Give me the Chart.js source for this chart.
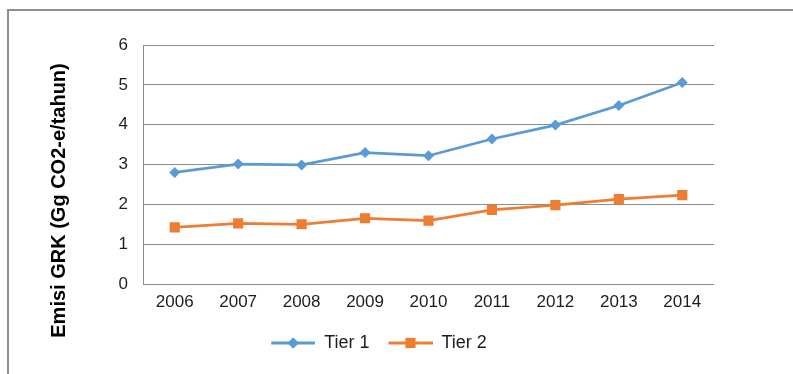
<!DOCTYPE html>
<html>
<head>
<meta charset="utf-8">
<script src="https://cdn.jsdelivr.net/npm/chart.js@4"></script>
<style>
    html, body { margin: 0; padding: 0; background: #fff; }
    #wrap { width: 793px; height: 374px; position: relative; }
</style>
</head>
<body>
<div id="wrap"><canvas id="chart"></canvas></div>
<script>
const years = ['2006', '2007', '2008', '2009', '2010', '2011', '2012', '2013', '2014'];
const tier1 = [2.80, 3.01, 2.99, 3.30, 3.22, 3.64, 3.99, 4.48, 5.06];
const tier2 = [1.42, 1.52, 1.50, 1.65, 1.59, 1.86, 1.98, 2.13, 2.23];
const yTicks = [0, 1, 2, 3, 4, 5, 6];

const blue = '#5b9bd5';
const orange = '#ed7d31';
const gridColor = '#8c8c8c';
const textColor = '#1e1e1e';
const fontFamily = 'Arial, "Liberation Sans", sans-serif';

// line + marker swatch for the legend, with a blank gap on its left
const swatchGap = 7;
function legendSwatch(color, style, radius) {
    const c = document.createElement('canvas');
    c.width = 44 + swatchGap;
    c.height = 16;
    const ctx = c.getContext('2d');
    ctx.strokeStyle = color;
    ctx.lineWidth = 3;
    ctx.beginPath();
    ctx.moveTo(swatchGap, 8);
    ctx.lineTo(swatchGap + 44, 8);
    ctx.stroke();
    ctx.fillStyle = color;
    Chart.helpers.drawPoint(ctx, { pointStyle: style, radius: radius, borderWidth: 0 }, swatchGap + 22, 8);
    ctx.fill();
    return c;
}

const framePlugin = {
    id: 'frame',
    beforeDraw(chart) {
        const ctx = chart.ctx;
        ctx.save();
        ctx.strokeStyle = '#8e8e8e';
        ctx.lineWidth = 2;
        ctx.beginPath();
        ctx.moveTo(8, chart.height);
        ctx.lineTo(8, 10);
        ctx.lineTo(chart.width, 10);
        ctx.stroke();
        ctx.restore();
    }
};

const yTitlePlugin = {
    id: 'yTitle',
    afterDraw(chart) {
        const ctx = chart.ctx;
        const area = chart.chartArea;
        ctx.save();
        ctx.translate(59, area.top + (area.bottom - area.top) / 2 + 36);
        ctx.rotate(-Math.PI / 2);
        ctx.fillStyle = '#000';
        ctx.font = 'bold 20px ' + fontFamily;
        ctx.textAlign = 'center';
        ctx.textBaseline = 'middle';
        ctx.fillText('Emisi GRK (Gg CO2-e/tahun)', 0, 0);
        ctx.restore();
    }
};

new Chart(document.getElementById('chart'), {
    type: 'line',
    data: {
        labels: years,
        datasets: [{
            label: 'Tier 1',
            data: tier1,
            borderColor: blue,
            backgroundColor: blue,
            borderWidth: 2.75,
            pointStyle: 'rectRot',
            pointRadius: 5.5,
            pointBorderWidth: 0,
            tension: 0
        }, {
            label: 'Tier 2',
            data: tier2,
            borderColor: orange,
            backgroundColor: orange,
            borderWidth: 2.75,
            pointStyle: 'rect',
            pointRadius: 7.2,
            pointBorderWidth: 0,
            tension: 0
        }]
    },
    options: {
        responsive: true,
        maintainAspectRatio: false,
        animation: false,
        layout: {
            padding: { top: 45, right: 79, bottom: 12, left: 37 }
        },
        plugins: {
            tooltip: { enabled: false },
            legend: {
                position: 'bottom',
                labels: {
                    usePointStyle: true,
                    pointStyleWidth: 44 + swatchGap,
                    padding: 12,
                    color: textColor,
                    font: { family: fontFamily, size: 18 },
                    generateLabels(chart) {
                        return chart.data.datasets.map((ds, i) => ({
                            text: ds.label,
                            datasetIndex: i,
                            fillStyle: ds.borderColor,
                            strokeStyle: ds.borderColor,
                            lineWidth: 0,
                            fontColor: textColor,
                            pointStyle: legendSwatch(ds.borderColor, ds.pointStyle, ds.pointRadius)
                        }));
                    }
                }
            }
        },
        scales: {
            x: {
                offset: true,
                grid: { display: false, drawTicks: false },
                border: { display: false },
                ticks: {
                    color: textColor,
                    padding: 8,
                    maxRotation: 0,
                    font: { family: fontFamily, size: 17 }
                },
                afterFit(scale) { scale.height = 38; }
            },
            y: {
                min: 0,
                max: 6,
                afterBuildTicks(scale) {
                    scale.ticks = yTicks.map(v => ({ value: v }));
                },
                grid: { color: gridColor, lineWidth: 1, drawTicks: false },
                border: { display: true, color: gridColor, width: 1 },
                ticks: {
                    color: textColor,
                    padding: 15,
                    font: { family: fontFamily, size: 17 }
                },
                afterFit(scale) { scale.width = 106; }
            }
        }
    },
    plugins: [framePlugin, yTitlePlugin]
});
</script>
</body>
</html>
